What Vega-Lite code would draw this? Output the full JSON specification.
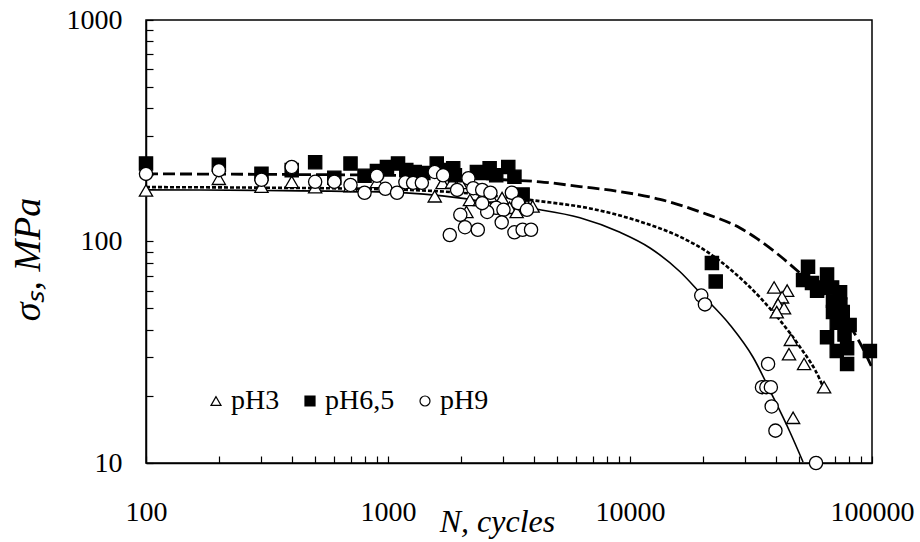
{
  "$schema": "https://vega.github.io/schema/vega-lite/v6.json",
  "width": 726,
  "height": 443,
  "autosize": {"type": "none"},
  "padding": {"left": 146, "top": 20, "right": 48, "bottom": 79},
  "background": "white",
  "config": {
    "view": {"stroke": "black", "strokeWidth": 1.5},
    "font": "Liberation Serif",
    "axis": {
      "grid": false,
      "domainColor": "black",
      "domainWidth": 1.5,
      "tickColor": "black",
      "tickWidth": 1.2,
      "tickSize": -7,
      "labelFont": "Liberation Serif",
      "labelFontSize": 28,
      "labelColor": "black",
      "titleFont": "Liberation Serif",
      "titleColor": "black",
      "titleFontWeight": "normal",
      "labelOverlap": false,
      "labelFlush": false
    }
  },
  "datasets": {
    "pts": [
      {"series": "pH3", "N": 100, "s": 170},
      {"series": "pH3", "N": 200, "s": 192},
      {"series": "pH3", "N": 300, "s": 177},
      {"series": "pH3", "N": 400, "s": 186},
      {"series": "pH3", "N": 500, "s": 176},
      {"series": "pH3", "N": 700, "s": 178},
      {"series": "pH3", "N": 900, "s": 186},
      {"series": "pH3", "N": 1290, "s": 185},
      {"series": "pH3", "N": 1560, "s": 160},
      {"series": "pH3", "N": 1680, "s": 184},
      {"series": "pH3", "N": 1840, "s": 185},
      {"series": "pH3", "N": 1990, "s": 184},
      {"series": "pH3", "N": 2110, "s": 136},
      {"series": "pH3", "N": 2180, "s": 154},
      {"series": "pH3", "N": 2400, "s": 154},
      {"series": "pH3", "N": 2650, "s": 160},
      {"series": "pH3", "N": 2750, "s": 142},
      {"series": "pH3", "N": 2960, "s": 157},
      {"series": "pH3", "N": 3180, "s": 142},
      {"series": "pH3", "N": 3400, "s": 136},
      {"series": "pH3", "N": 3750, "s": 146},
      {"series": "pH3", "N": 3960, "s": 144},
      {"series": "pH3", "N": 39400, "s": 62},
      {"series": "pH3", "N": 44600, "s": 60},
      {"series": "pH3", "N": 42500, "s": 56},
      {"series": "pH3", "N": 40900, "s": 52},
      {"series": "pH3", "N": 43300, "s": 50},
      {"series": "pH3", "N": 40400, "s": 48},
      {"series": "pH3", "N": 46200, "s": 36},
      {"series": "pH3", "N": 45400, "s": 31},
      {"series": "pH3", "N": 52400, "s": 28},
      {"series": "pH3", "N": 63400, "s": 22},
      {"series": "pH3", "N": 47200, "s": 16},
      {"series": "pH6,5", "N": 100, "s": 225},
      {"series": "pH6,5", "N": 200, "s": 222},
      {"series": "pH6,5", "N": 300, "s": 202},
      {"series": "pH6,5", "N": 400, "s": 210},
      {"series": "pH6,5", "N": 500, "s": 228},
      {"series": "pH6,5", "N": 600, "s": 194},
      {"series": "pH6,5", "N": 700, "s": 225},
      {"series": "pH6,5", "N": 800, "s": 198},
      {"series": "pH6,5", "N": 900, "s": 208},
      {"series": "pH6,5", "N": 990, "s": 217},
      {"series": "pH6,5", "N": 1100, "s": 225},
      {"series": "pH6,5", "N": 1190, "s": 210},
      {"series": "pH6,5", "N": 1290, "s": 206},
      {"series": "pH6,5", "N": 1400, "s": 204},
      {"series": "pH6,5", "N": 1590, "s": 225},
      {"series": "pH6,5", "N": 1680, "s": 210},
      {"series": "pH6,5", "N": 1860, "s": 214},
      {"series": "pH6,5", "N": 1890, "s": 199},
      {"series": "pH6,5", "N": 2330, "s": 206},
      {"series": "pH6,5", "N": 2460, "s": 204},
      {"series": "pH6,5", "N": 2630, "s": 214},
      {"series": "pH6,5", "N": 2800, "s": 199},
      {"series": "pH6,5", "N": 3140, "s": 217},
      {"series": "pH6,5", "N": 3330, "s": 196},
      {"series": "pH6,5", "N": 3600, "s": 163},
      {"series": "pH6,5", "N": 21800, "s": 80},
      {"series": "pH6,5", "N": 22600, "s": 66},
      {"series": "pH6,5", "N": 54400, "s": 77},
      {"series": "pH6,5", "N": 51900, "s": 67},
      {"series": "pH6,5", "N": 65200, "s": 71},
      {"series": "pH6,5", "N": 56500, "s": 65},
      {"series": "pH6,5", "N": 59300, "s": 60},
      {"series": "pH6,5", "N": 62000, "s": 62},
      {"series": "pH6,5", "N": 68400, "s": 62},
      {"series": "pH6,5", "N": 73800, "s": 59},
      {"series": "pH6,5", "N": 69000, "s": 54},
      {"series": "pH6,5", "N": 74000, "s": 52},
      {"series": "pH6,5", "N": 69000, "s": 48},
      {"series": "pH6,5", "N": 75700, "s": 48},
      {"series": "pH6,5", "N": 71500, "s": 43},
      {"series": "pH6,5", "N": 80800, "s": 42},
      {"series": "pH6,5", "N": 77000, "s": 38},
      {"series": "pH6,5", "N": 65200, "s": 37},
      {"series": "pH6,5", "N": 71500, "s": 32},
      {"series": "pH6,5", "N": 78900, "s": 33},
      {"series": "pH6,5", "N": 78900, "s": 28},
      {"series": "pH6,5", "N": 98000, "s": 32},
      {"series": "pH9", "N": 100, "s": 202},
      {"series": "pH9", "N": 200, "s": 210},
      {"series": "pH9", "N": 300, "s": 190},
      {"series": "pH9", "N": 400, "s": 217},
      {"series": "pH9", "N": 500, "s": 186},
      {"series": "pH9", "N": 600, "s": 186},
      {"series": "pH9", "N": 700, "s": 180},
      {"series": "pH9", "N": 800, "s": 166},
      {"series": "pH9", "N": 900, "s": 198},
      {"series": "pH9", "N": 975, "s": 173},
      {"series": "pH9", "N": 1090, "s": 166},
      {"series": "pH9", "N": 1180, "s": 185},
      {"series": "pH9", "N": 1270, "s": 184},
      {"series": "pH9", "N": 1380, "s": 184},
      {"series": "pH9", "N": 1560, "s": 206},
      {"series": "pH9", "N": 1690, "s": 199},
      {"series": "pH9", "N": 1930, "s": 171},
      {"series": "pH9", "N": 2150, "s": 193},
      {"series": "pH9", "N": 1990, "s": 132},
      {"series": "pH9", "N": 2250, "s": 174},
      {"series": "pH9", "N": 2450, "s": 171},
      {"series": "pH9", "N": 2650, "s": 166},
      {"series": "pH9", "N": 2800, "s": 142},
      {"series": "pH9", "N": 3000, "s": 139},
      {"series": "pH9", "N": 3250, "s": 166},
      {"series": "pH9", "N": 3450, "s": 149},
      {"series": "pH9", "N": 3750, "s": 139},
      {"series": "pH9", "N": 2570, "s": 136},
      {"series": "pH9", "N": 2450, "s": 149},
      {"series": "pH9", "N": 2080, "s": 116},
      {"series": "pH9", "N": 2350, "s": 113},
      {"series": "pH9", "N": 1800, "s": 107},
      {"series": "pH9", "N": 3330, "s": 110},
      {"series": "pH9", "N": 3600, "s": 113},
      {"series": "pH9", "N": 3900, "s": 113},
      {"series": "pH9", "N": 2950, "s": 122},
      {"series": "pH9", "N": 19700, "s": 57},
      {"series": "pH9", "N": 20400, "s": 52},
      {"series": "pH9", "N": 37200, "s": 28},
      {"series": "pH9", "N": 35100, "s": 22},
      {"series": "pH9", "N": 36600, "s": 22},
      {"series": "pH9", "N": 38200, "s": 22},
      {"series": "pH9", "N": 38500, "s": 18},
      {"series": "pH9", "N": 39900, "s": 14},
      {"series": "pH9", "N": 58700, "s": 10}
    ],
    "curves": [
      {"c": "pH6,5", "N": 100, "s": 202},
      {"c": "pH6,5", "N": 300, "s": 201},
      {"c": "pH6,5", "N": 1000, "s": 199},
      {"c": "pH6,5", "N": 2000, "s": 194},
      {"c": "pH6,5", "N": 3000, "s": 190},
      {"c": "pH6,5", "N": 4250, "s": 186},
      {"c": "pH6,5", "N": 6210, "s": 177},
      {"c": "pH6,5", "N": 9090, "s": 168},
      {"c": "pH6,5", "N": 13300, "s": 155},
      {"c": "pH6,5", "N": 19500, "s": 136},
      {"c": "pH6,5", "N": 28500, "s": 115},
      {"c": "pH6,5", "N": 33500, "s": 103},
      {"c": "pH6,5", "N": 41700, "s": 86},
      {"c": "pH6,5", "N": 50400, "s": 72},
      {"c": "pH6,5", "N": 67000, "s": 54},
      {"c": "pH6,5", "N": 89000, "s": 35},
      {"c": "pH6,5", "N": 100000, "s": 27},
      {"c": "pH3", "N": 100, "s": 176},
      {"c": "pH3", "N": 300, "s": 175},
      {"c": "pH3", "N": 1000, "s": 172},
      {"c": "pH3", "N": 2000, "s": 166},
      {"c": "pH3", "N": 3000, "s": 159},
      {"c": "pH3", "N": 4250, "s": 152},
      {"c": "pH3", "N": 6840, "s": 141},
      {"c": "pH3", "N": 11000, "s": 123},
      {"c": "pH3", "N": 16100, "s": 105},
      {"c": "pH3", "N": 20800, "s": 90},
      {"c": "pH3", "N": 26700, "s": 73},
      {"c": "pH3", "N": 34400, "s": 56},
      {"c": "pH3", "N": 41700, "s": 44},
      {"c": "pH3", "N": 50400, "s": 33.4},
      {"c": "pH3", "N": 61000, "s": 23.7},
      {"c": "pH3", "N": 63400, "s": 21.4},
      {"c": "pH9", "N": 100, "s": 171},
      {"c": "pH9", "N": 300, "s": 170},
      {"c": "pH9", "N": 1000, "s": 167},
      {"c": "pH9", "N": 2000, "s": 157},
      {"c": "pH9", "N": 3000, "s": 146},
      {"c": "pH9", "N": 4250, "s": 139},
      {"c": "pH9", "N": 6210, "s": 128},
      {"c": "pH9", "N": 9090, "s": 110},
      {"c": "pH9", "N": 12100, "s": 93.5},
      {"c": "pH9", "N": 16100, "s": 73},
      {"c": "pH9", "N": 19500, "s": 58.6},
      {"c": "pH9", "N": 25900, "s": 42},
      {"c": "pH9", "N": 32200, "s": 30.1},
      {"c": "pH9", "N": 39000, "s": 19.9},
      {"c": "pH9", "N": 45800, "s": 13.8},
      {"c": "pH9", "N": 51900, "s": 10.1}
    ]
  },
  "encoding": {
    "x": {
      "field": "N", "type": "quantitative",
      "scale": {"type": "log", "domain": [100, 100000], "nice": false},
      "axis": {
        "title": "N, cycles",
        "titleFontStyle": "italic",
        "titleFontSize": 32,
        "titleX": 351,
        "titleY": 58,
        "titleBaseline": "middle",
        "titleAlign": "center",
        "labelFontSize": 28,
        "labelPadding": 42,
        "format": "d",
        "values": [100,200,300,400,500,600,700,800,900,1000,2000,3000,4000,5000,6000,7000,8000,9000,10000,20000,30000,40000,50000,60000,70000,80000,90000,100000],
        "labelExpr": "indexof(['100','1000','10000','100000'], datum.label) >= 0 ? datum.label : ''"
      }
    },
    "y": {
      "field": "s", "type": "quantitative",
      "scale": {"type": "log", "domain": [10, 1000], "nice": false},
      "axis": {
        "title": "σₛ, MPa",
        "titleFontStyle": "italic",
        "titleFontSize": 38,
        "titleAngle": -90,
        "titleX": -118,
        "titleY": 239,
        "titleAlign": "center",
        "titleBaseline": "middle",
        "labelFontSize": 28,
        "labelPadding": 31,
        "format": "d",
        "values": [10,20,30,40,50,60,70,80,90,100,200,300,400,500,600,700,800,900,1000],
        "labelExpr": "indexof(['10','100','1000'], datum.label) >= 0 ? datum.label : ''"
      }
    }
  },
  "layer": [
    {
      "data": {"name": "curves"},
      "transform": [{"filter": "datum.c == 'pH9'"}],
      "mark": {"type": "line", "color": "black", "strokeWidth": 1.6, "interpolate": "monotone", "clip": true}
    },
    {
      "data": {"name": "curves"},
      "transform": [{"filter": "datum.c == 'pH3'"}],
      "mark": {"type": "line", "color": "black", "strokeWidth": 2.6, "strokeDash": [4, 2], "interpolate": "monotone", "clip": true}
    },
    {
      "data": {"name": "curves"},
      "transform": [{"filter": "datum.c == 'pH6,5'"}],
      "mark": {"type": "line", "color": "black", "strokeWidth": 2.8, "strokeDash": [12, 5], "interpolate": "monotone", "clip": true}
    },
    {
      "data": {"name": "pts"},
      "mark": {"type": "point", "strokeWidth": 1.3, "opacity": 1, "filled": false, "size": 175},
      "encoding": {
        "shape": {
          "field": "series", "type": "nominal",
          "scale": {"domain": ["pH3", "pH6,5", "pH9"], "range": ["triangle-up", "square", "circle"]},
          "legend": {
            "orient": "none", "legendX": 56, "legendY": 367, "direction": "horizontal",
            "title": null, "labelFont": "Liberation Serif", "labelFontSize": 28, "labelColor": "black",
            "symbolSize": 100, "symbolStrokeWidth": 1.2,
            "labelOffset": 1, "columnPadding": 16
          }
        },
        "fill": {
          "field": "series", "type": "nominal",
          "scale": {"domain": ["pH3", "pH6,5", "pH9"], "range": ["white", "black", "white"]},
          "legend": {
            "orient": "none", "legendX": 56, "legendY": 367, "direction": "horizontal",
            "title": null, "labelFont": "Liberation Serif", "labelFontSize": 28, "labelColor": "black",
            "symbolSize": 100, "symbolStrokeWidth": 1.2,
            "labelOffset": 1, "columnPadding": 16
          }
        },
        "stroke": {
          "field": "series", "type": "nominal",
          "scale": {"domain": ["pH3", "pH6,5", "pH9"], "range": ["black", "black", "black"]},
          "legend": {
            "orient": "none", "legendX": 56, "legendY": 367, "direction": "horizontal",
            "title": null, "labelFont": "Liberation Serif", "labelFontSize": 28, "labelColor": "black",
            "symbolSize": 100, "symbolStrokeWidth": 1.2,
            "labelOffset": 1, "columnPadding": 16
          }
        }
      }
    }
  ]
}
